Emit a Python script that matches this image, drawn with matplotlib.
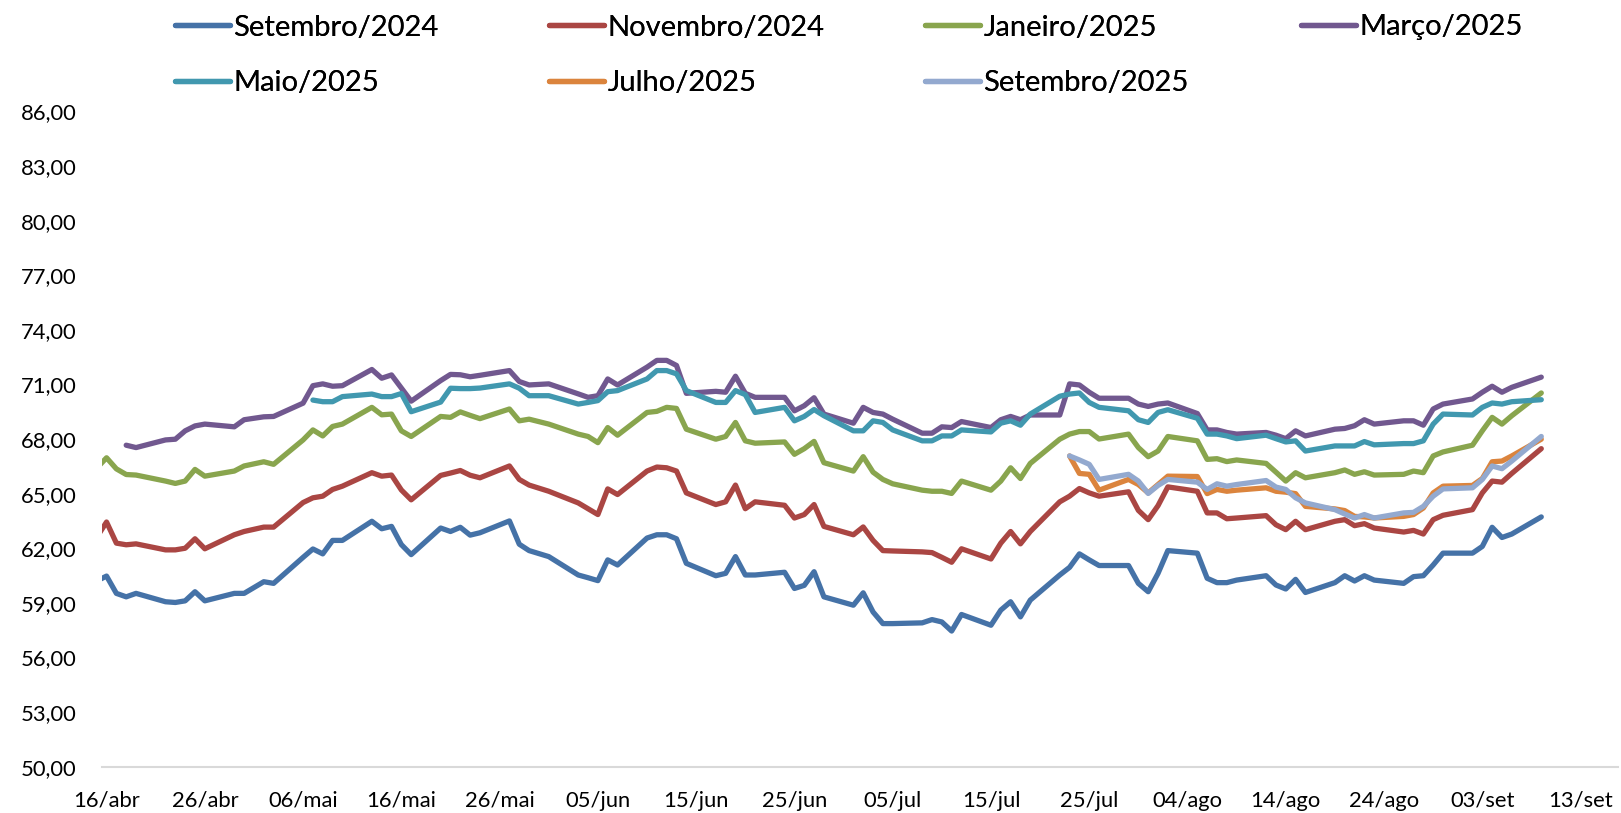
import matplotlib
matplotlib.use("Agg")
import matplotlib.pyplot as plt
import matplotlib.dates as mdates
from matplotlib.ticker import FuncFormatter
import numpy as np
import pandas as pd

plt.rcParams['font.family'] = ['Lato', 'DejaVu Sans']

# pregões (dias úteis da B3, sem 01/mai e 30/mai)
datas = pd.bdate_range('2024-04-15', '2024-09-09').drop(pd.to_datetime(['2024-05-01', '2024-05-30']))

# cotações (R$/saca) - cada linha é uma semana
set24 = [60.2, 60.47, 59.52, 59.33, 59.52,
         59.06, 59.02, 59.11, 59.61, 59.11,
         59.52, 59.52, 60.16, 60.07,
         61.5, 61.96, 61.69, 62.43, 62.43,
         63.48, 63.07, 63.20, 62.2, 61.65,
         63.11, 62.92, 63.15, 62.72, 62.85,
         63.5, 62.22, 61.87, 61.54,
         60.53, 60.38, 60.22, 61.36, 61.08,
         62.56, 62.74, 62.74, 62.52, 61.17,
         60.49, 60.62, 61.54, 60.53, 60.53,
         60.68, 59.79, 59.96, 60.71, 59.33,
         58.87, 59.55, 58.50, 57.86, 57.86,
         57.90, 58.08, 57.95, 57.45, 58.36,
         57.77, 58.60, 59.06, 58.23, 59.15,
         60.53, 60.95, 61.69, 61.36, 61.05,
         61.05, 60.07, 59.61, 60.62, 61.87,
         61.73, 60.35, 60.11, 60.11, 60.25,
         60.49, 59.98, 59.76, 60.29, 59.57,
         60.11, 60.49, 60.20, 60.49, 60.25,
         60.07, 60.44, 60.49, 61.08, 61.73,
         61.73, 62.10, 63.15, 62.59, 62.78,
         63.72]
nov24 = [62.6, 63.44, 62.28, 62.19, 62.24,
         61.91, 61.91, 62.00, 62.52, 61.97,
         62.74, 62.92, 63.16, 63.16,
         64.51, 64.77, 64.86, 65.23, 65.41,
         66.15, 65.96, 66.02, 65.2, 64.66,
         66.0, 66.13, 66.27, 66.01, 65.87,
         66.52, 65.78, 65.47, 65.13,
         64.49, 64.17, 63.85, 65.26, 64.95,
         66.24, 66.46, 66.42, 66.24, 65.04,
         64.40, 64.55, 65.47, 64.17, 64.55,
         64.36, 63.66, 63.85, 64.40, 63.20,
         62.74, 63.17, 62.43, 61.87, 61.85,
         61.80, 61.76, 61.50, 61.23, 61.97,
         61.41, 62.28, 62.92, 62.24, 62.92,
         64.55, 64.86, 65.28, 65.04, 64.86,
         65.10, 64.08, 63.57, 64.34, 65.37,
         65.13, 63.94, 63.94, 63.62, 63.66,
         63.79, 63.29, 63.02, 63.48, 63.02,
         63.48, 63.57, 63.24, 63.35, 63.11,
         62.89, 62.98, 62.78, 63.57, 63.81,
         64.12, 65.04, 65.69, 65.63, 66.11,
         67.47]
jan25 = [66.4, 66.97, 66.36, 66.05, 66.02,
         65.69, 65.56, 65.69, 66.33, 65.96,
         66.24, 66.52, 66.75, 66.61,
         67.95, 68.50, 68.17, 68.69, 68.82,
         69.74, 69.33, 69.37, 68.45, 68.14,
         69.24, 69.19, 69.49, 69.30, 69.12,
         69.65, 69.00, 69.09, 68.82,
         68.27, 68.14, 67.80, 68.63, 68.21,
         69.46, 69.52, 69.74, 69.68, 68.54,
         67.99, 68.14, 68.91, 67.90, 67.77,
         67.84, 67.16, 67.47, 67.87, 66.70,
         66.24, 67.03, 66.18, 65.78, 65.54,
         65.19, 65.13, 65.13, 65.01, 65.69,
         65.19, 65.69, 66.42, 65.83, 66.66,
         67.99, 68.27, 68.41, 68.41, 68.0,
         68.27, 67.53, 67.03, 67.34, 68.14,
         67.90, 66.88, 66.92, 66.76, 66.85,
         66.66, 66.18, 65.69, 66.15, 65.87,
         66.15, 66.30, 66.06, 66.20, 66.02,
         66.06, 66.24, 66.15, 67.07, 67.29,
         67.66, 68.45, 69.19, 68.82, 69.28,
         70.53]
mar25 = [67.66, 67.53,
         67.95, 67.99, 68.45, 68.72, 68.82,
         68.67, 69.06, 69.22, 69.24,
         69.97, 70.93, 71.03, 70.90, 70.93,
         71.82, 71.34, 71.52, 70.8, 70.08,
         71.21, 71.55, 71.53, 71.42, 71.5,
         71.76, 71.16, 70.97, 71.03,
         70.48, 70.29, 70.38, 71.30, 70.97,
         71.95, 72.32, 72.32, 72.04, 70.51,
         70.62, 70.57, 71.45, 70.51, 70.29,
         70.29, 69.55, 69.83, 70.27, 69.37,
         68.87, 69.74, 69.46, 69.37, 69.09,
         68.32, 68.32, 68.67, 68.63, 68.96,
         68.63, 69.06, 69.24, 69.06, 69.32,
         69.32, 71.03, 70.97, 70.57, 70.24,
         70.24, 69.92, 69.79, 69.92, 69.98,
         69.40, 68.50, 68.50, 68.36, 68.27,
         68.36, 68.21, 68.02, 68.45, 68.17,
         68.54, 68.58, 68.73, 69.06, 68.82,
         69.00, 69.00, 68.76, 69.65, 69.92,
         70.20, 70.57, 70.90, 70.57, 70.84,
         71.40]
mai25 = [70.14, 70.05, 70.05, 70.33,
         70.47, 70.33, 70.33, 70.5, 69.5,
         70.03, 70.79, 70.77, 70.77, 70.8,
         71.03, 70.79, 70.38, 70.38,
         69.92, 70.01, 70.11, 70.60, 70.66,
         71.30, 71.76, 71.76, 71.58, 70.66,
         70.01, 70.01, 70.66, 70.44, 69.46,
         69.74, 69.00, 69.24, 69.62, 69.28,
         68.45, 68.45, 69.00, 68.91, 68.50,
         67.90, 67.90, 68.17, 68.17, 68.50,
         68.39, 68.87, 69.00, 68.76, 69.37,
         70.35, 70.47, 70.53, 70.01, 69.74,
         69.55, 69.06, 68.91, 69.46, 69.61,
         69.14, 68.27, 68.27, 68.17, 68.02,
         68.21, 68.02, 67.84, 67.90, 67.34,
         67.62, 67.62, 67.62, 67.86, 67.68,
         67.75, 67.75, 67.90, 68.82, 69.37,
         69.32, 69.74, 69.98, 69.92, 70.05,
         70.16]
jul25 = [67.07, 66.11, 66.06, 65.19,
         65.78, 65.50, 65.04, 65.50, 65.96,
         65.94, 65.00, 65.23, 65.13, 65.19,
         65.32, 65.13, 65.08, 65.00, 64.30,
         64.16, 64.07, 63.75, 63.72, 63.66,
         63.75, 63.85, 64.21, 65.04, 65.41,
         65.45, 65.83, 66.75, 66.79, 67.07,
         67.99]
set25 = [67.07, 66.85, 66.61, 65.78,
         66.06, 65.69, 65.01, 65.45, 65.78,
         65.63, 65.23, 65.54, 65.41, 65.50,
         65.72, 65.36, 65.23, 64.77, 64.49,
         64.12, 63.88, 63.66, 63.85, 63.66,
         63.94, 63.97, 64.30, 64.86, 65.26,
         65.32, 65.78, 66.52, 66.37, 66.79,
         68.14]

nomes = ['Setembro/2024', 'Novembro/2024', 'Janeiro/2025', 'Março/2025',
         'Maio/2025', 'Julho/2025', 'Setembro/2025']
series = [set24, nov24, jan25, mar25, mai25, jul25, set25]
cores = ['#4572A7', '#AA4643', '#89A54E', '#71588F', '#4198AF', '#DB843D', '#93A9CF']

meses = ['jan', 'fev', 'mar', 'abr', 'mai', 'jun', 'jul', 'ago', 'set', 'out', 'nov', 'dez']

fig = plt.figure(figsize=(16.21, 8.13), dpi=100)
ax = fig.add_axes([0.0627, 0.057, 0.9354, 0.806])

linhas = []
for nome, vals, cor in zip(nomes, series, cores):
    x = datas[len(datas) - len(vals):]  # todas as séries terminam em 09/set
    l, = ax.plot(x, vals, color=cor, lw=3.8, solid_joinstyle='round',
                 solid_capstyle='round', label=nome)
    linhas.append(l)

inicio = pd.Timestamp('2024-04-16')
ax.set_xlim(inicio - pd.Timedelta(hours=12), inicio + pd.Timedelta(days=153.8))
ax.set_xticks(pd.date_range(inicio, periods=16, freq='10D'))
ax.xaxis.set_major_formatter(FuncFormatter(
    lambda v, p: '%02d/%s' % (mdates.num2date(v).day, meses[mdates.num2date(v).month - 1])))

ax.set_ylim(50, 86)
ax.set_yticks(np.arange(50, 87, 3))
ax.yaxis.set_major_formatter(FuncFormatter(lambda v, p: ('%.2f' % v).replace('.', ',')))

for s in ['left', 'right', 'top']:
    ax.spines[s].set_visible(False)
ax.spines['bottom'].set_color('#D9D9D9')
ax.spines['bottom'].set_linewidth(1.5)
ax.tick_params(axis='both', length=0, labelsize=15.8, colors='black')
ax.tick_params(axis='y', pad=18)
ax.tick_params(axis='x', pad=17.5)

# legenda em colunas de largura fixa, como no Excel
colunas = [[0, 4], [1, 5], [2, 6], [3]]
x_col = [175, 549, 925, 1301]
for idx, xc in zip(colunas, x_col):
    leg = fig.legend([linhas[i] for i in idx], [nomes[i] for i in idx],
                     loc='upper left', bbox_to_anchor=(xc / 1621, 1 - 14.5 / 813),
                     frameon=False, fontsize=21, handlelength=1.88, handletextpad=0.12,
                     borderpad=0, borderaxespad=0, labelspacing=1.01)
    fig.add_artist(leg)

fig.savefig('out.png', dpi=100)
